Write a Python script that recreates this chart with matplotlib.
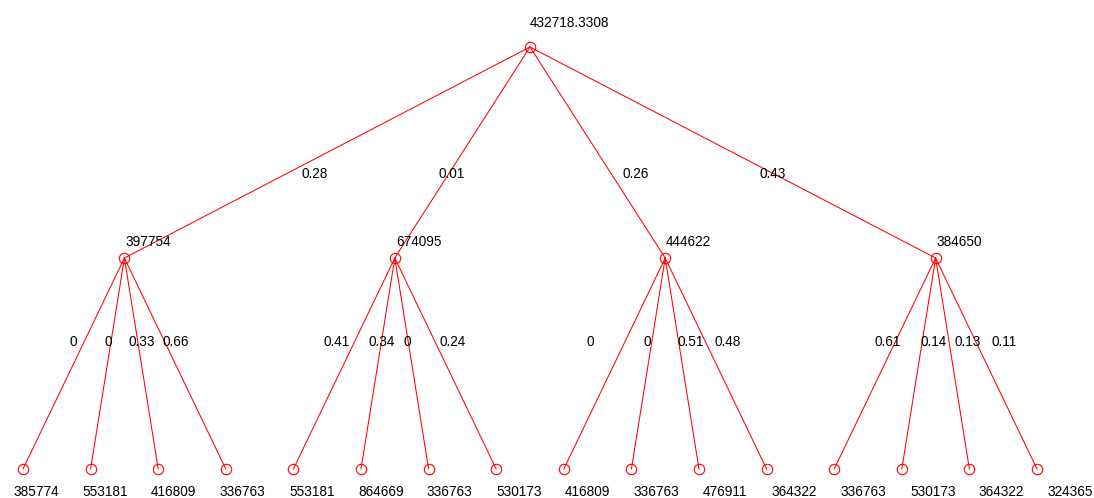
import numpy as np
import matplotlib
matplotlib.use("Agg")
import matplotlib.pyplot as plt

# tree values
root_label = "432718.3308"
mid_values = [397754, 674095, 444622, 384650]
leaf_values = [385774, 553181, 416809, 336763,
               553181, 864669, 336763, 530173,
               416809, 336763, 476911, 364322,
               336763, 530173, 364322, 324365]
top_weights = ["0.28", "0.01", "0.26", "0.43"]
leaf_weights = ["0", "0", "0.33", "0.66",
                "0.41", "0.34", "0", "0.24",
                "0", "0", "0.51", "0.48",
                "0.61", "0.14", "0.13", "0.11"]

# label nudges in pixels (x) relative to the edge midpoint
top_dx = [-13, -11, 38, 40]
leaf_dx = [0, 1, 0, 1,
           -7, 4, -4, 7,
           -24, -1, 9, 12,
           3, 15, 15, 18]

plt.rcParams['font.family'] = ['Liberation Sans', 'DejaVu Sans']
red = '#ff0000'
fs = 9.8
px = 0.72  # pixels -> points at dpi 100

fig = plt.figure(figsize=(10.94, 4.98), dpi=100)
ax = fig.add_axes([0, 0, 1, 1])
ax.set_axis_off()

# layout: leaves at 1..16 (level 0), parents at mean of children
n_leaf = len(leaf_values)
leaf_x = np.arange(1, n_leaf + 1)
mid_x = leaf_x.reshape(len(mid_values), -1).mean(axis=1)
root_x = mid_x.mean()
y_leaf, y_mid, y_root = 0, 1, 2

per = n_leaf // len(mid_values)
for i, mx in enumerate(mid_x):
    ax.plot([root_x, mx], [y_root, y_mid], color=red, lw=0.75)
    for j in range(per):
        k = i * per + j
        ax.plot([mx, leaf_x[k]], [y_mid, y_leaf], color=red, lw=0.75)

all_x = np.concatenate([[root_x], mid_x, leaf_x])
all_y = np.concatenate([[y_root], np.full(len(mid_x), y_mid), np.full(n_leaf, y_leaf)])
ax.plot(all_x, all_y, 'o', ms=7.5, mfc='none', mec=red, mew=0.8)

# node labels
ax.annotate(root_label, (root_x, y_root), xytext=(0, 24 * px), textcoords='offset points',
            ha='left', va='center', fontsize=fs)
for mx, v in zip(mid_x, mid_values):
    ax.annotate(str(v), (mx, y_mid), xytext=(1 * px, 16 * px), textcoords='offset points',
                ha='left', va='center', fontsize=fs)
for k, (lx, v) in enumerate(zip(leaf_x, leaf_values)):
    off = -10 + 21 * k / (n_leaf - 1)
    ax.annotate(str(v), (lx, y_leaf), xytext=(off * px, -23 * px), textcoords='offset points',
                ha='left', va='center', fontsize=fs)

# edge weights
for mx, w, dx in zip(mid_x, top_weights, top_dx):
    ax.annotate(w, ((root_x + mx) / 2, (y_root + y_mid) / 2), xytext=(dx * px, -21 * px),
                textcoords='offset points', ha='center', va='center', fontsize=fs)
for k, (lx, w, dx) in enumerate(zip(leaf_x, leaf_weights, leaf_dx)):
    mx = mid_x[k // per]
    ax.annotate(w, ((mx + lx) / 2, (y_mid + y_leaf) / 2), xytext=(dx * px, 21 * px),
                textcoords='offset points', ha='center', va='center', fontsize=fs)

# map data to the pixel positions of the reference
sx = 67.6
ax.set_xlim(1 - 23 / sx, n_leaf + (1094 - 1037) / sx)
ax.set_ylim(-(498 - 469) / 211, 469 / 211)

fig.savefig("out.png", dpi=100, facecolor='white')
